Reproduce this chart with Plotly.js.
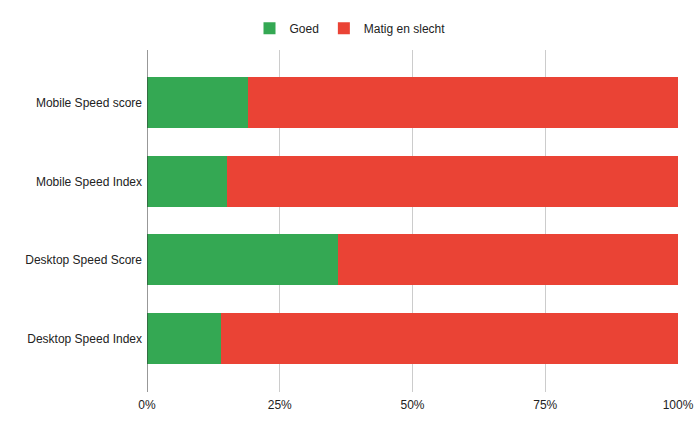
<!DOCTYPE html>
<html><head><meta charset="utf-8">
<script src="https://cdn.plot.ly/plotly-3.0.1.min.js"></script>
<style>body{margin:0;background:#fff}#c{width:700px;height:434px}</style>
</head><body><div id="c"></div>
<script>
const categories = ["Mobile Speed score", "Mobile Speed Index", "Desktop Speed Score", "Desktop Speed Index"];
const goed = [19.1, 15.0, 36.0, 14.0];
const matig = [80.9, 85.0, 64.0, 86.0];
const xTicks = [0, 25, 50, 75, 100];
const xTickLabels = ["0%", "25%", "50%", "75%", "100%"];

const traces = [
  {type:"bar", orientation:"h", name:"Goed", y:categories, x:goed, marker:{color:"#34a853"}, hoverinfo:"x+y"},
  {type:"bar", orientation:"h", name:"Matig en slecht", y:categories, x:matig, marker:{color:"#ea4335"}, hoverinfo:"x+y"}
];
const layout = {
  width:700, height:434,
  margin:{l:147, r:22, t:50, b:42},
  barmode:"stack", bargap:0.352,
  font:{family:"Liberation Sans, Arial, sans-serif", size:12, color:"#222"},
  showlegend:true,
  legend:{orientation:"h", traceorder:"normal", x:0.5, xanchor:"center", xref:"container", y:0.935, yanchor:"middle", yref:"container", font:{size:12, color:"#222"}},
  xaxis:{range:[0,100], tickvals:xTicks, ticktext:xTickLabels, showgrid:true, gridcolor:"#cccccc", zeroline:false, showline:false, ticks:"", ticklabelstandoff:4, fixedrange:true},
  yaxis:{autorange:false, range:[3.68,-0.67], type:"category", showgrid:false, ticks:"", ticklen:0, ticklabelstandoff:4, zeroline:false, showline:false},
  shapes:[{type:"line", xref:"x", yref:"paper", x0:0, x1:0, y0:0, y1:1, line:{color:"#333", width:1}}],
  paper_bgcolor:"#fff", plot_bgcolor:"#fff"
};
Plotly.newPlot("c", traces, layout, {displayModeBar:false, staticPlot:true});
</script></body></html>
